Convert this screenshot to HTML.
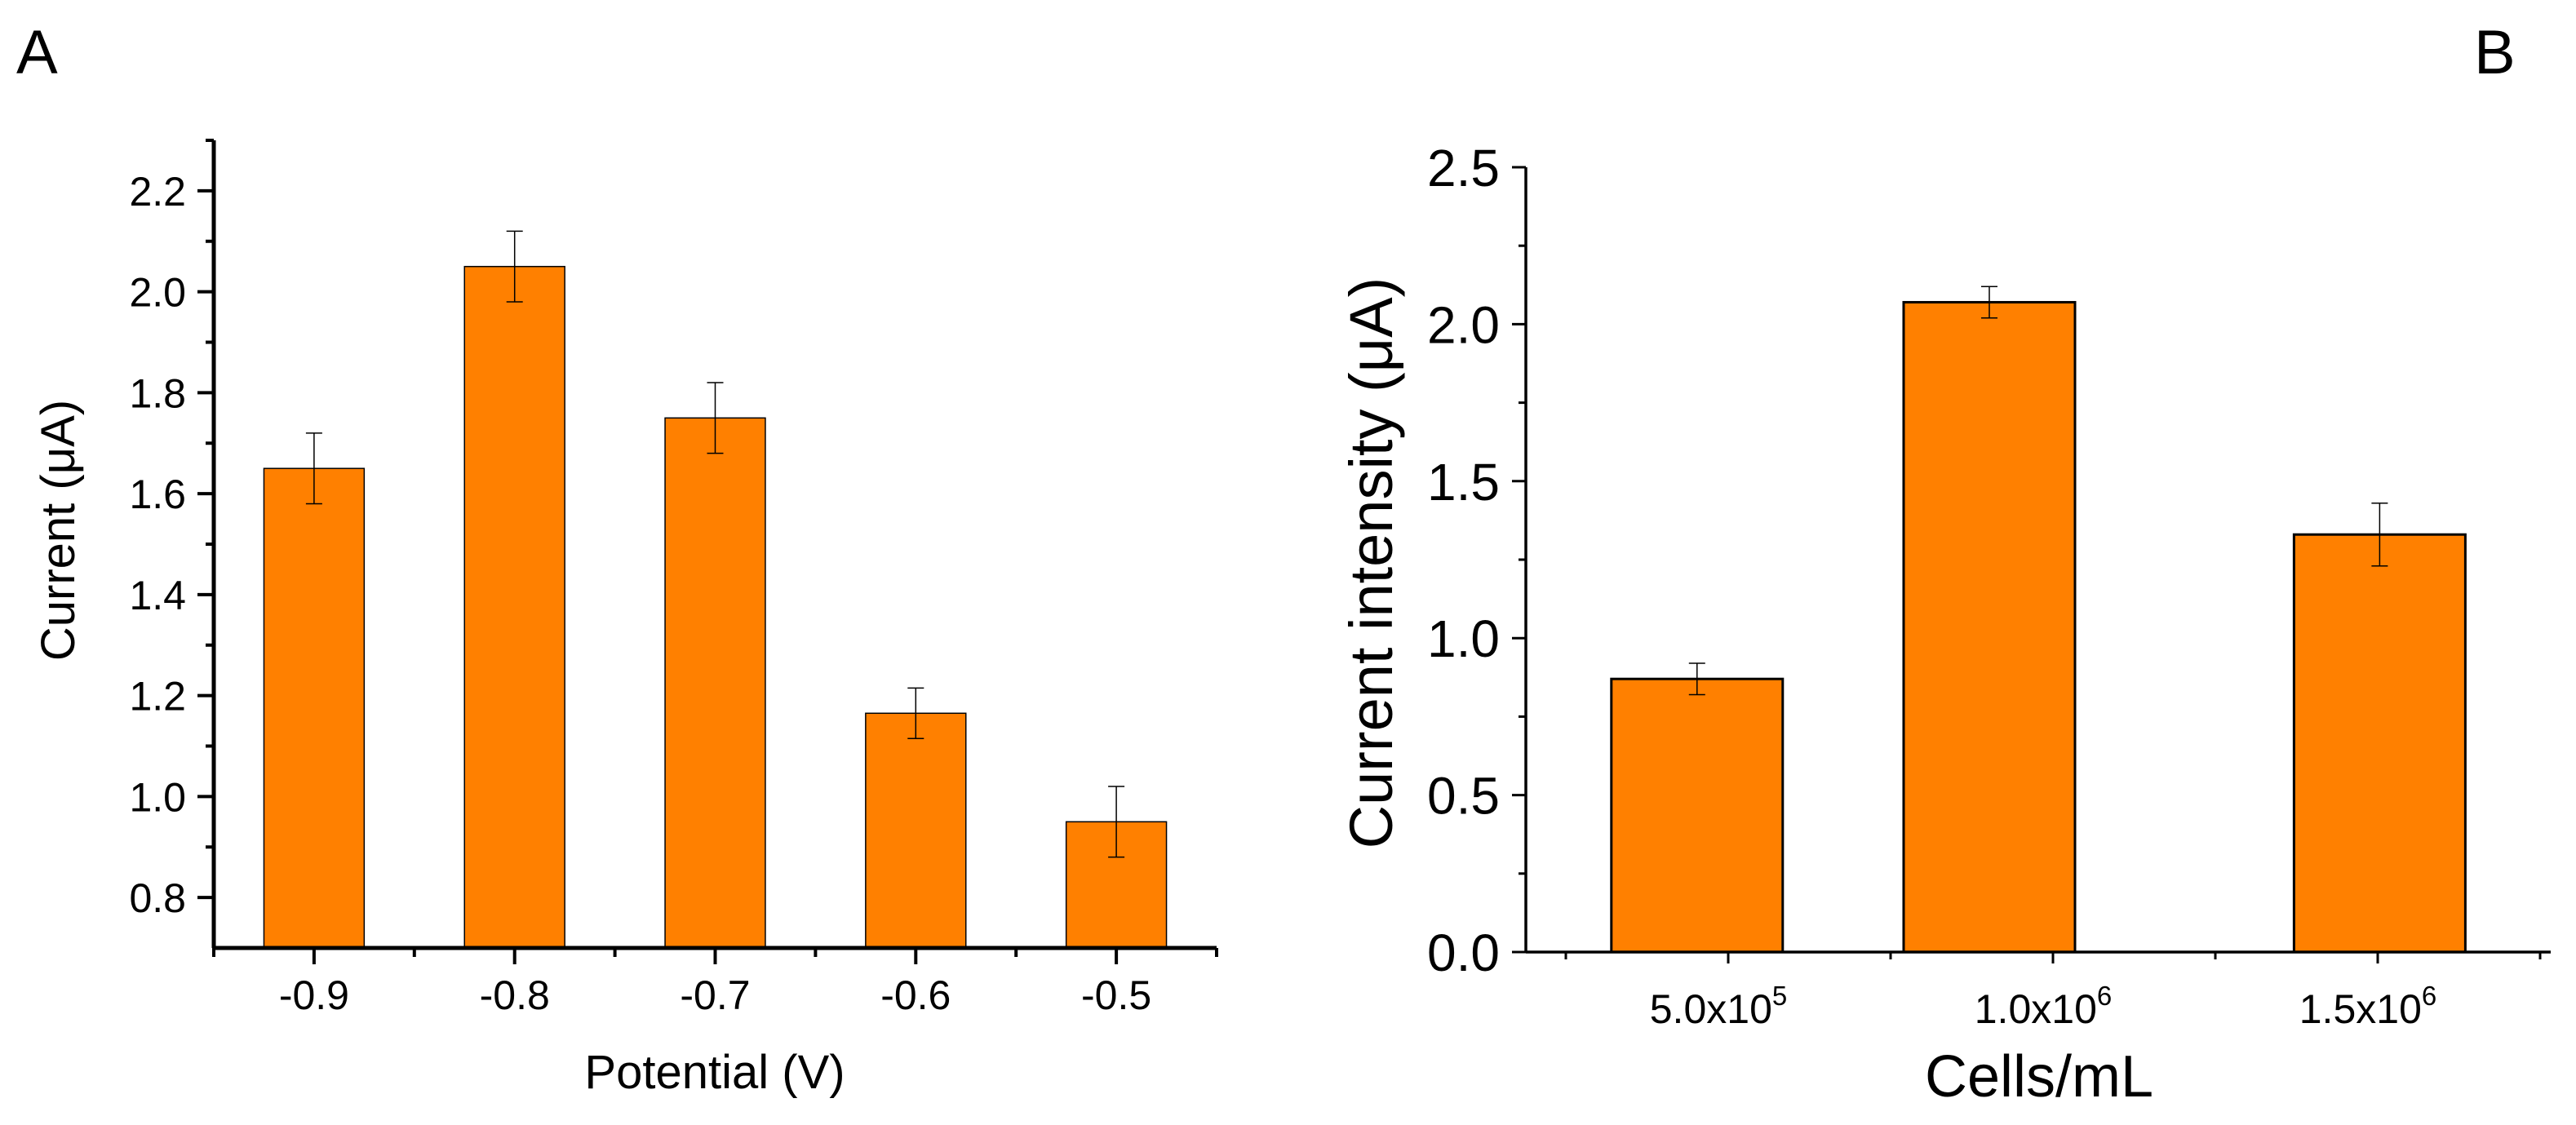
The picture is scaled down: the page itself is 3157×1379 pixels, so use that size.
<!DOCTYPE html>
<html><head><meta charset="utf-8"><style>
html,body{margin:0;padding:0;background:#fff}
svg{display:block;font-family:"Liberation Sans",Arial,sans-serif}
</style></head><body>
<svg id="fig" width="3157" height="1379" viewBox="0 0 3157 1379" xmlns="http://www.w3.org/2000/svg">
<rect width="3157" height="1379" fill="#fff"/>
<text x="20" y="90" font-size="76">A</text>
<text x="3032" y="90" font-size="76">B</text>
<g id="pa"></g>
<g id="pb"></g>
</svg>
<script>
// Panel A data
const aCategories = [-0.9, -0.8, -0.7, -0.6, -0.5];
const aValues = [1.65, 2.05, 1.75, 1.165, 0.95];
const aErrors = [0.07, 0.07, 0.07, 0.05, 0.07];
const aYTicks = [0.8, 1.0, 1.2, 1.4, 1.6, 1.8, 2.0, 2.2];
const aXTickLabels = ["-0.9", "-0.8", "-0.7", "-0.6", "-0.5"];
// Panel B data
const bBarX = [4.52e5, 9.02e5, 1.503e6];
const bValues = [0.87, 2.07, 1.33];
const bErrors = [0.05, 0.05, 0.10];
const bYTicks = [0.0, 0.5, 1.0, 1.5, 2.0, 2.5];
const bXTicks = [5e5, 1e6, 1.5e6];
const bXTickBase = ["5.0x10", "1.0x10", "1.5x10"];
const bXTickExp = ["5", "6", "6"];

const NS = "http://www.w3.org/2000/svg";
function mk(parent, tag, attrs, text) {
  const e = document.createElementNS(NS, tag);
  for (const k in attrs) e.setAttribute(k, attrs[k]);
  if (text !== undefined) e.textContent = text;
  parent.appendChild(e);
  return e;
}

// ---------- Panel A ----------
(function(){
  const g = document.getElementById('pa');
  const X0 = 262, X1 = 1491, Y0 = 1162, Y1 = 172;
  const xmin = -0.95, xmax = -0.45, ymin = 0.7, ymax = 2.3;
  const xs = v => X0 + (v - xmin) / (xmax - xmin) * (X1 - X0);
  const ys = v => Y0 - (v - ymin) / (ymax - ymin) * (Y0 - Y1);
  const bw = 0.05 * (X1 - X0) / (xmax - xmin);
  aCategories.forEach((c, i) => {
    const r = mk(g, 'rect', {x: xs(c) - bw/2, y: ys(aValues[i]), width: bw, height: Y0 - ys(aValues[i]), fill: '#ff8000', stroke: '#000', 'stroke-width': 1.5});
    
    
    const cx = xs(c), t = ys(aValues[i] + aErrors[i]), b = ys(aValues[i] - aErrors[i]);
    const e = mk(g, 'path', {d: `M${cx},${t}V${b}M${cx-10},${t}H${cx+10}M${cx-10},${b}H${cx+10}`, stroke: '#000', 'stroke-width': 1.5, fill: 'none'});
    
    
  });
  const ax = mk(g, 'path', {d: `M${X0},${Y1}V${Y0}M${X0-2},${Y0}H${X1}`, stroke: '#000', 'stroke-width': 5, fill: 'none'});
  
  
  for (let v = 0.8; v <= 2.301; v += 0.1) {
    const major = Math.abs(Math.round(v * 10) % 2) === 0;
    mk(g, 'line', {x1: X0 - (major ? 20 : 10), x2: X0, y1: ys(v), y2: ys(v), stroke: '#000', 'stroke-width': 4});
  }
  aYTicks.forEach(v => {
    const t = mk(g, 'text', {x: 228, y: ys(v) + 18, 'font-size': 50, 'text-anchor': 'end'}, v.toFixed(1));
    
    
  });
  aCategories.forEach((c, i) => {
    mk(g, 'line', {x1: xs(c), x2: xs(c), y1: Y0, y2: Y0 + 20, stroke: '#000', 'stroke-width': 4});
    mk(g, 'line', {x1: xs(c - 0.05), x2: xs(c - 0.05), y1: Y0, y2: Y0 + 11, stroke: '#000', 'stroke-width': 4});
    const t = mk(g, 'text', {x: xs(c), y: 1237, 'font-size': 50, 'text-anchor': 'middle'}, aXTickLabels[i]);
    
    
  });
  mk(g, 'line', {x1: X1, x2: X1, y1: Y0, y2: Y0 + 11, stroke: '#000', 'stroke-width': 4});
  const xt = mk(g, 'text', {x: 876, y: 1334, 'font-size': 58, 'text-anchor': 'middle'}, 'Potential (V)');
  
  
  const yt = mk(g, 'text', {x: 0, y: 0, 'font-size': 58, 'text-anchor': 'middle', transform: 'translate(91,650) rotate(-90)'}, 'Current (\u03bcA)');
  
  
})();

// ---------- Panel B ----------
(function(){
  const g = document.getElementById('pb');
  const X0 = 1870, X1 = 3126, Y0 = 1167, Y1 = 205;
  const xref = 5e5, xrefPx = 2118, pxPerUnit = 398 / 5e5;
  const xs = v => xrefPx + (v - xref) * pxPerUnit;
  const ys = v => Y0 - v / 2.5 * (Y0 - Y1);
  const bw = 210;
  bBarX.forEach((c, i) => {
    const r = mk(g, 'rect', {x: xs(c) - bw/2, y: ys(bValues[i]), width: bw, height: Y0 - ys(bValues[i]), fill: '#ff8000', stroke: '#000', 'stroke-width': 3});
    
    
    const cx = xs(c), t = ys(bValues[i] + bErrors[i]), b = ys(bValues[i] - bErrors[i]);
    const e = mk(g, 'path', {d: `M${cx},${t}V${b}M${cx-10},${t}H${cx+10}M${cx-10},${b}H${cx+10}`, stroke: '#000', 'stroke-width': 1.5, fill: 'none'});
    
    
  });
  const ax = mk(g, 'path', {d: `M${X0},${Y1}V${Y0}M${X0},${Y0}H${X1}`, stroke: '#000', 'stroke-width': 3.5, fill: 'none'});
  
  
  for (let k = 0; k <= 10; k++) {
    const v = k * 0.25, major = k % 2 === 0;
    mk(g, 'line', {x1: X0 - (major ? 17 : 9), x2: X0, y1: ys(v), y2: ys(v), stroke: '#000', 'stroke-width': 3});
  }
  bYTicks.forEach(v => {
    const t = mk(g, 'text', {x: 1838, y: ys(v) + 23, 'font-size': 64, 'text-anchor': 'end'}, v.toFixed(1));
    
    
  });
  bXTicks.forEach((c, i) => {
    mk(g, 'line', {x1: xs(c), x2: xs(c), y1: Y0, y2: Y0 + 14, stroke: '#000', 'stroke-width': 3});
    mk(g, 'line', {x1: xs(c - 2.5e5), x2: xs(c - 2.5e5), y1: Y0, y2: Y0 + 9, stroke: '#000', 'stroke-width': 3});
    const t = mk(g, 'text', {x: xs(c) - 12, y: 1254, 'font-size': 50, 'text-anchor': 'middle'});
    
    
    mk(t, 'tspan', {}, bXTickBase[i]);
    mk(t, 'tspan', {dy: -22, 'font-size': 33}, bXTickExp[i]);
  });
  mk(g, 'line', {x1: xs(1.75e6), x2: xs(1.75e6), y1: Y0, y2: Y0 + 9, stroke: '#000', 'stroke-width': 3});
  const xt = mk(g, 'text', {x: 2499, y: 1344, 'font-size': 72, 'text-anchor': 'middle'}, 'Cells/mL');
  
  
  const yt = mk(g, 'text', {x: 0, y: 0, 'font-size': 74, 'text-anchor': 'middle', transform: 'translate(1706,690) rotate(-90)'}, 'Current intensity (\u03bcA)');
  
  
})();
</script>
</body></html>
